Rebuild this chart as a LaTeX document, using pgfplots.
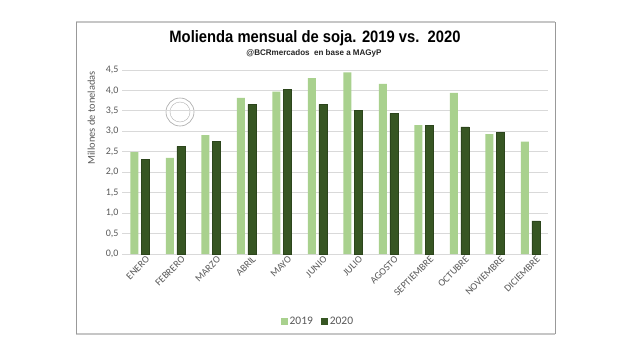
\documentclass[border=0pt]{standalone}
\usepackage{pgfplots}
\pgfplotsset{compat=1.18}
\usepackage{fontspec}
\setmainfont{Carlito}
\newfontfamily\titlefont{Liberation Sans}
\definecolor{lightg}{HTML}{A9D18E}
\definecolor{darkg}{HTML}{375623}
\definecolor{gridc}{HTML}{D9D9D9}
\definecolor{txt}{HTML}{595959}
\begin{document}
\begin{tikzpicture}
\path[fill=white] (0pt,0pt) rectangle (640pt,360pt);
% frame
\draw[color=gray!45, line width=1.2pt] (76pt,338pt) -- (555pt,338pt);
\draw[color=gray!45, line width=1.2pt] (76pt,26pt) -- (555pt,26pt);
\draw[color=gray!80, line width=0.8pt] (76pt,26pt) -- (76pt,338pt);
\draw[color=gray!80, line width=0.8pt] (555pt,26pt) -- (555pt,338pt);
% title
\node[font=\titlefont\bfseries\fontsize{16.5}{20}\selectfont] at (315pt,322pt) {\scalebox{0.895}[1]{Molienda mensual de soja. 2019 vs.\ \ 2020}};
\node[font=\titlefont\bfseries\fontsize{8.2}{9}\selectfont, text=black!85] at (314pt,307pt) {\scalebox{0.98}[1]{@BCRmercados\ \ en base a MAGyP}};
% logo (decorative)
\draw[gray!70, line width=0.6pt] (180pt,248pt) circle (14pt);
\draw[gray!60, line width=0.4pt] (180pt,248pt) circle (10pt);
\begin{axis}[
  at={(122pt,106pt)}, anchor=south west,
  scale only axis, width=426pt, height=184pt,
  ybar=3pt, bar width=8pt,
  xmin=-0.5, xmax=11.5, ymin=0, ymax=4.5,
  ytick={0,0.5,...,4.5},
  xtick={0,...,11},
  xticklabels={ENERO,FEBRERO,MARZO,ABRIL,MAYO,JUNIO,JULIO,AGOSTO,SEPTIEMBRE,OCTUBRE,NOVIEMBRE,DICIEMBRE},
  xticklabel style={rotate=45, anchor=north east, font=\fontsize{10}{11}\selectfont, text=txt, inner sep=1pt, yshift=-4pt, xshift=4pt},
  yticklabel style={font=\fontsize{10}{11}\selectfont, text=txt},
  /pgf/number format/.cd, use comma, fixed, fixed zerofill, precision=1, assume math mode=true,
  /pgfplots/.cd,
  ymajorgrids, grid style={gridc, line width=0.8pt},
  axis x line*=bottom,
  x axis line style={draw=gridc, line width=0.8pt},
  y axis line style={draw=none},
  major tick length=0pt,
  ylabel={Millones de toneladas},
  ylabel style={font=\fontsize{10.4}{12}\selectfont, text=txt, at={(axis description cs:-0.072,0.74)}, anchor=center},
  legend style={at={(0.46,-0.365)}, anchor=center, draw=none, legend columns=2, font=\fontsize{11.5}{13}\selectfont, text=txt,
    /tikz/every even column/.append style={column sep=6pt}},
  legend image code/.code={\draw[#1, draw=none] (0cm,-0.12cm) rectangle (0.24cm,0.12cm);},
  clip=false,
]
\addplot[fill=lightg, draw=none] coordinates {(0,2.49) (1,2.35) (2,2.91) (3,3.82) (4,3.97) (5,4.30) (6,4.44) (7,4.16) (8,3.15) (9,3.94) (10,2.93) (11,2.75)};
\addplot[fill=darkg, draw=darkg!80!black, line width=0.4pt] coordinates {(0,2.32) (1,2.63) (2,2.75) (3,3.66) (4,4.03) (5,3.66) (6,3.52) (7,3.44) (8,3.14) (9,3.11) (10,2.97) (11,0.81)};
\legend{2019,2020}
\end{axis}
\end{tikzpicture}
\end{document}
